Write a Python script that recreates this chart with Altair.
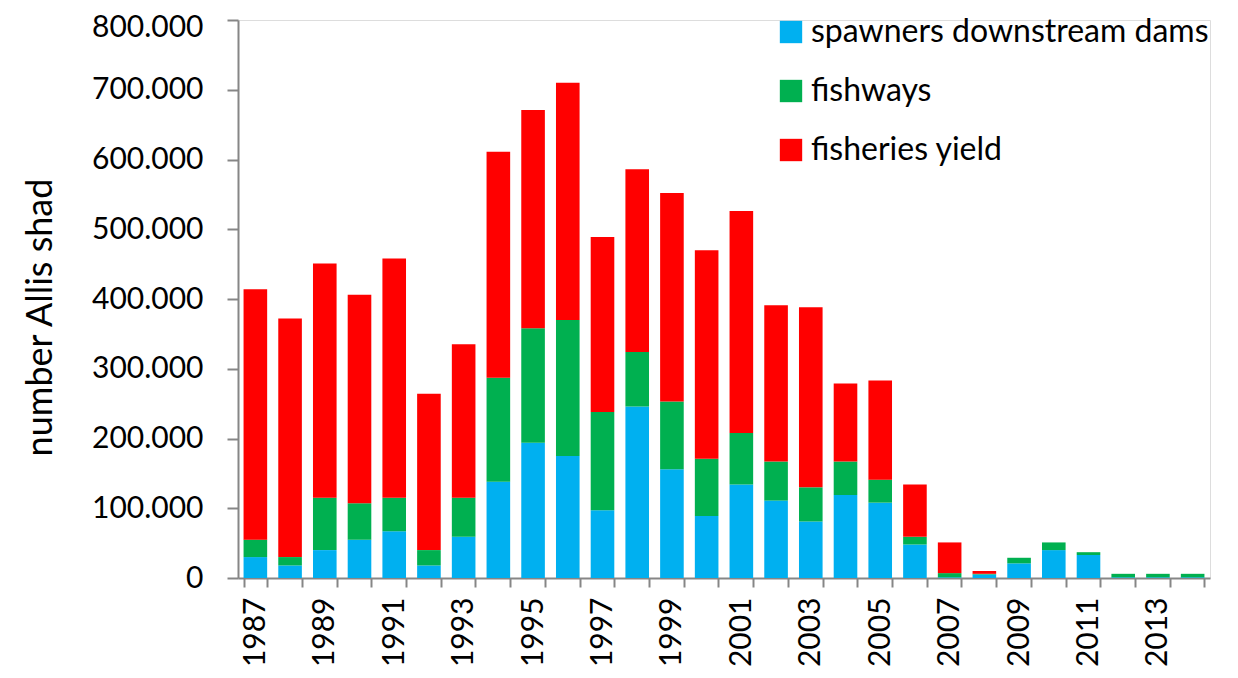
import altair as alt
import pandas as pd

years = list(range(1987, 2015))
# per-segment values (number of fish)
spawners = [30000, 18000, 40000, 55000, 67000, 18000, 59000, 138000, 194000, 175000,
            97000, 246000, 156000, 89000, 134000, 111000, 81000, 119000, 108000, 48000,
            1000, 5000, 21000, 40000, 33000, 1000, 1000, 1000]
fishways = [25000, 12000, 75000, 52000, 48000, 22000, 56000, 149000, 164000, 195000,
            141000, 78000, 97000, 82000, 74000, 56000, 49000, 48000, 33000, 11000,
            6000, 1000, 8000, 11000, 4000, 5000, 5000, 5000]
fisheries = [359000, 342000, 336000, 299000, 343000, 224000, 220000, 324000, 313000, 340000,
             251000, 262000, 299000, 299000, 318000, 224000, 258000, 112000, 142000, 75000,
             44000, 4000, 0, 0, 0, 0, 0, 0]
y_ticks = [0, 100000, 200000, 300000, 400000, 500000, 600000, 700000, 800000]

series_names = ["spawners downstream dams", "fishways", "fisheries yield"]
series_colors = ["#00B0F0", "#00B050", "#FF0000"]

rows = []
for i, y in enumerate(years):
    for k, (name, vals) in enumerate(zip(series_names, [spawners, fishways, fisheries])):
        rows.append({"year": y, "series": name, "value": vals[i], "order": k})
df = pd.DataFrame(rows)

FONT = "Lato"

chart = alt.Chart(df).mark_bar().encode(
    x=alt.X("year:O",
            scale=alt.Scale(paddingInner=0.32, paddingOuter=0.16),
            axis=alt.Axis(title=None, labelAngle=-90, labelFontSize=30, labelFont=FONT,
                          labelColor="black", labelPadding=10,
                          labelExpr="datum.value % 2 == 1 ? datum.label : ''",
                          tickBand="extent", tickSize=9, tickColor="#868686", tickWidth=2,
                          domainColor="#868686", domainWidth=2, labelBaseline="middle")),
    y=alt.Y("value:Q", stack="zero",
            scale=alt.Scale(domain=[0, 800000], nice=False),
            axis=alt.Axis(title="number Allis shad", titleFontSize=36, titleFont=FONT,
                          titleFontWeight="normal", titleColor="black",
                          titleAngle=270, titleX=-198, titleY=297, titleAlign="center",
                          titleBaseline="middle",
                          values=y_ticks,
                          labelExpr="replace(format(datum.value, ','), ',', '.')",
                          labelFontSize=30, labelFont=FONT, labelColor="black", labelPadding=24,
                          labelOffset={"condition": {"test": "datum.value >= 800000", "value": 7},
                                       "value": 0},
                          tickSize=11, tickColor="#868686", tickWidth=2,
                          domainColor="#868686", domainWidth=2, grid=False)),
    color=alt.Color("series:N",
                    scale=alt.Scale(domain=series_names, range=series_colors),
                    legend=alt.Legend(title=None, orient="none", legendX=537, legendY=-4,
                                      symbolType="square", symbolSize=500, symbolStrokeWidth=0,
                                      labelFontSize=32, labelFont=FONT, labelColor="black",
                                      labelOffset=4, rowPadding=27, labelLimit=600)),
    order=alt.Order("order:Q", sort="ascending"),
).properties(
    width=972, height=558,
    autosize=alt.AutoSizeParams(type="none"),
    padding={"left": 230, "top": 12, "right": 20, "bottom": 90},
).configure_view(stroke=None).configure(background="white")

chart.save("out.html", embed_options={"renderer": "svg", "actions": False})
